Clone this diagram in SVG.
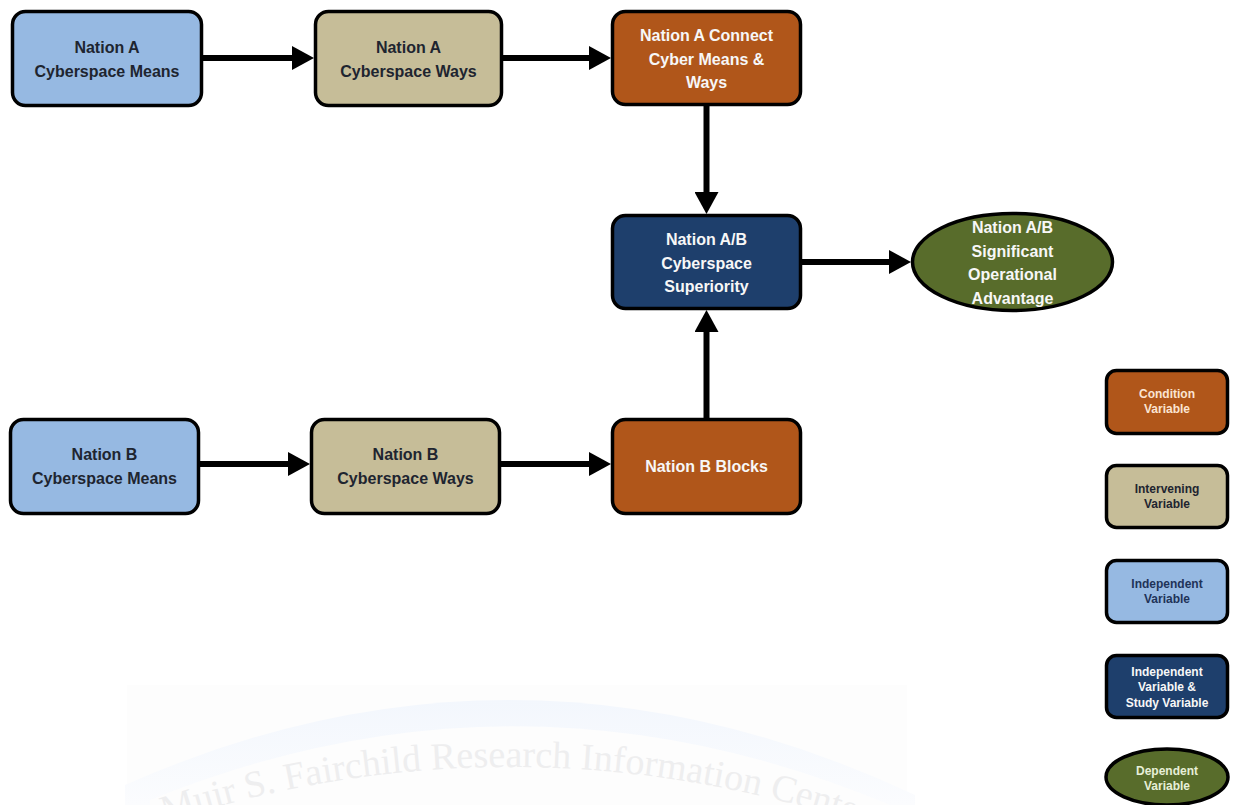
<svg xmlns="http://www.w3.org/2000/svg" width="1236" height="805" viewBox="0 0 1236 805">
  <defs>
    <style>
      .box { stroke: #000; stroke-width: 3.5; }
      .means { fill: #96b9e2; }
      .ways { fill: #c6bd98; }
      .cond { fill: #b0561a; }
      .study { fill: #1e3f6c; }
      .dep { fill: #586c2b; }
      .lbl { font-family: "Liberation Sans", Arial, sans-serif; font-weight: bold; font-size: 16px; text-anchor: middle; }
      .small { font-size: 12px; }
      .dark { fill: #1e2530; }
      .light { fill: #f7f7f7; }
      .peach { fill: #fbe4d2; }
      .navytxt { fill: #1f3358; }
      .greentxt { fill: #e7efd8; }
      .conn { stroke: #000; stroke-width: 6; fill: none; marker-end: url(#head); }
      .wm { font-family: "Liberation Serif", "Times New Roman", serif; font-size: 38px; fill: #eeeeef; }
    </style>
    <marker id="head" markerUnits="userSpaceOnUse" markerWidth="22" markerHeight="24" refX="0" refY="12" orient="auto">
      <path d="M0,0 L22,12 L0,24 z" fill="#000"/>
    </marker>
    <linearGradient id="bandFade" x1="0" y1="0" x2="0" y2="1">
      <stop offset="0" stop-color="#f3f7fd"/>
      <stop offset="1" stop-color="#fbfcfe"/>
    </linearGradient>
    <path id="wmArc" d="M -40 914.4 A 1100 1100 0 0 1 1060 914.4"/>
  </defs>

  <rect width="1236" height="805" fill="#ffffff"/>

  <!-- faint library seal in the background -->
  <g id="watermark">
    <rect x="127" y="685" width="780" height="120" fill="#fdfdfd"/>
    <path d="M 125 805 L 125 785 Q 520 610 915 795 L 915 805 Z" fill="url(#bandFade)"/>
    <path d="M 150 805 L 150 800 Q 520 650 890 805 Z" fill="#fdfdfd"/>
    <text class="wm"><textPath href="#wmArc" startOffset="225">Muir S. Fairchild Research Information Center</textPath></text>
  </g>

  <!-- connectors -->
  <g id="connectors">
    <line class="conn" x1="203" y1="58" x2="292" y2="58"/>
    <line class="conn" x1="503" y1="58" x2="589" y2="58"/>
    <line class="conn" x1="706.5" y1="106" x2="706.5" y2="192"/>
    <line class="conn" x1="802" y1="262" x2="889" y2="262"/>
    <line class="conn" x1="706.5" y1="418" x2="706.5" y2="332"/>
    <line class="conn" x1="200" y1="464" x2="288" y2="464"/>
    <line class="conn" x1="501" y1="464" x2="589" y2="464"/>
  </g>

  <g id="nationA-means">
    <rect class="box means" x="12.5" y="11.5" width="189" height="94" rx="13"/>
    <text class="lbl dark" x="107" y="53">Nation A</text>
    <text class="lbl dark" x="107" y="77">Cyberspace Means</text>
  </g>

  <g id="nationA-ways">
    <rect class="box ways" x="315.5" y="11.5" width="186" height="94" rx="13"/>
    <text class="lbl dark" x="408.5" y="53">Nation A</text>
    <text class="lbl dark" x="408.5" y="77">Cyberspace Ways</text>
  </g>

  <g id="nationA-connect">
    <rect class="box cond" x="612.5" y="11.5" width="188" height="93" rx="13"/>
    <text class="lbl light" x="706.5" y="41">Nation A Connect</text>
    <text class="lbl light" x="706.5" y="65">Cyber Means &amp;</text>
    <text class="lbl light" x="706.5" y="88">Ways</text>
  </g>

  <g id="superiority">
    <rect class="box study" x="612.5" y="215.5" width="188" height="93" rx="13"/>
    <text class="lbl light" x="706.5" y="245">Nation A/B</text>
    <text class="lbl light" x="706.5" y="269">Cyberspace</text>
    <text class="lbl light" x="706.5" y="292">Superiority</text>
  </g>

  <g id="advantage">
    <ellipse class="box dep" cx="1012.5" cy="262" rx="100" ry="48.5"/>
    <text class="lbl light" x="1012.5" y="233">Nation A/B</text>
    <text class="lbl light" x="1012.5" y="257">Significant</text>
    <text class="lbl light" x="1012.5" y="280">Operational</text>
    <text class="lbl light" x="1012.5" y="304">Advantage</text>
  </g>

  <g id="nationB-means">
    <rect class="box means" x="10.5" y="419.5" width="188" height="94" rx="13"/>
    <text class="lbl dark" x="104.5" y="460">Nation B</text>
    <text class="lbl dark" x="104.5" y="484">Cyberspace Means</text>
  </g>

  <g id="nationB-ways">
    <rect class="box ways" x="311.5" y="419.5" width="188" height="94" rx="13"/>
    <text class="lbl dark" x="405.5" y="460">Nation B</text>
    <text class="lbl dark" x="405.5" y="484">Cyberspace Ways</text>
  </g>

  <g id="nationB-blocks">
    <rect class="box cond" x="612.5" y="419.5" width="188" height="94" rx="13"/>
    <text class="lbl light" x="706.5" y="472">Nation B Blocks</text>
  </g>

  <!-- legend -->
  <g id="legend-condition">
    <rect class="box cond" x="1106.5" y="370.5" width="121" height="63" rx="10"/>
    <text class="lbl small peach" x="1167" y="398">Condition</text>
    <text class="lbl small peach" x="1167" y="413">Variable</text>
  </g>
  <g id="legend-intervening">
    <rect class="box ways" x="1106.5" y="465.5" width="121" height="62" rx="10"/>
    <text class="lbl small dark" x="1167" y="493">Intervening</text>
    <text class="lbl small dark" x="1167" y="508">Variable</text>
  </g>
  <g id="legend-independent">
    <rect class="box means" x="1106.5" y="560.5" width="121" height="62" rx="10"/>
    <text class="lbl small navytxt" x="1167" y="588">Independent</text>
    <text class="lbl small navytxt" x="1167" y="603">Variable</text>
  </g>
  <g id="legend-study">
    <rect class="box study" x="1106.5" y="655.5" width="121" height="62" rx="10"/>
    <text class="lbl small light" x="1167" y="676">Independent</text>
    <text class="lbl small light" x="1167" y="691">Variable &amp;</text>
    <text class="lbl small light" x="1167" y="707">Study Variable</text>
  </g>
  <g id="legend-dependent">
    <ellipse class="box dep" cx="1167" cy="777" rx="61" ry="28"/>
    <text class="lbl small greentxt" x="1167" y="775">Dependent</text>
    <text class="lbl small greentxt" x="1167" y="790">Variable</text>
  </g>
</svg>
